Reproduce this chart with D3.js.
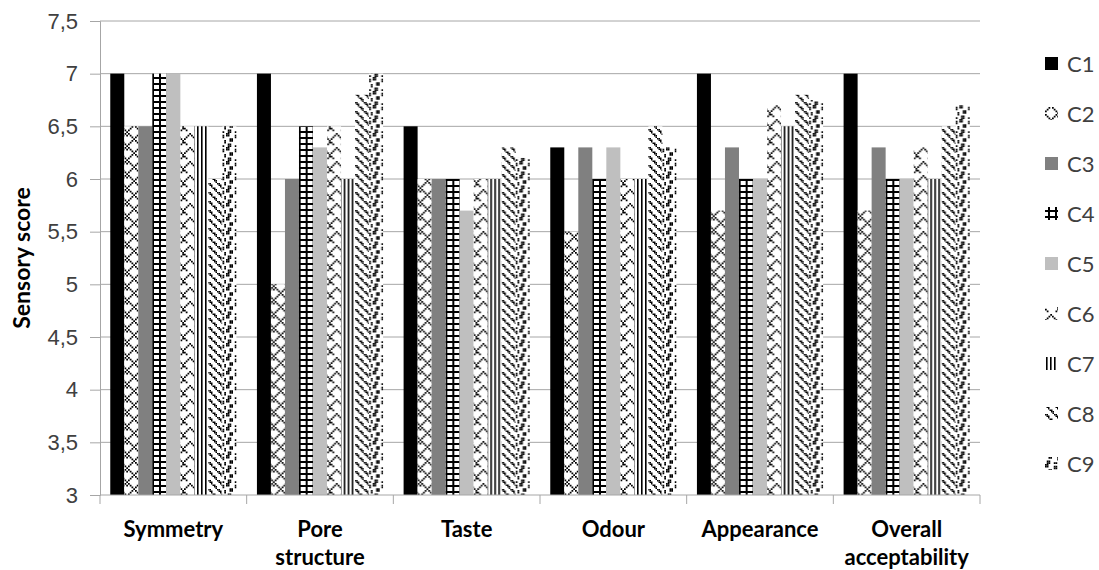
<!DOCTYPE html>
<html>
<head>
<meta charset="utf-8">
<script src="https://cdn.jsdelivr.net/npm/d3@7"></script>
<style>
  body { margin: 0; background: #fff; }
  svg { display: block; font-family: Lato, "Open Sans", sans-serif; }
  .axis-title { font-weight: bold; font-size: 23px; fill: #000; }
  .cat-label { font-weight: bold; font-size: 22px; fill: #000; }
  .tick-label { font-size: 22px; fill: #404040; }
  .legend-label { font-size: 22px; fill: #404040; }
</style>
</head>
<body>
<svg id="chart"></svg>
<script>
// categories, series and their values
const categories = ['Symmetry', 'Pore structure', 'Taste', 'Odour', 'Appearance', 'Overall acceptability'];
const seriesNames = ['C1', 'C2', 'C3', 'C4', 'C5', 'C6', 'C7', 'C8', 'C9'];
const C1 = [7.0, 7.0, 6.5, 6.3, 7.0, 7.0];
const C2 = [6.5, 5.0, 6.0, 5.5, 5.7, 5.7];
const C3 = [6.5, 6.0, 6.0, 6.3, 6.3, 6.3];
const C4 = [7.0, 6.5, 6.0, 6.0, 6.0, 6.0];
const C5 = [7.0, 6.3, 5.7, 6.3, 6.0, 6.0];
const C6 = [6.5, 6.5, 6.0, 6.0, 6.7, 6.3];
const C7 = [6.5, 6.0, 6.0, 6.0, 6.5, 6.0];
const C8 = [6.0, 6.8, 6.3, 6.5, 6.8, 6.5];
const C9 = [6.5, 7.0, 6.2, 6.3, 6.75, 6.7];
const yTicks = [3, 3.5, 4, 4.5, 5, 5.5, 6, 6.5, 7, 7.5];

const seriesValues = [C1, C2, C3, C4, C5, C6, C7, C8, C9];

class patternBarChart {
    constructor(_config) {
        this.config = {
            parentElement: _config.parentElement,
            containerWidth: _config.containerWidth || 1099,
            containerHeight: _config.containerHeight || 570,
            margin: _config.margin || { top: 21, right: 119, bottom: 75, left: 100 }
        };
        this.initChart();
    }

    initChart() {
        let vis = this;
        vis.width = vis.config.containerWidth - vis.config.margin.left - vis.config.margin.right;
        vis.height = vis.config.containerHeight - vis.config.margin.top - vis.config.margin.bottom;

        vis.svg = d3.select(vis.config.parentElement)
            .attr('width', vis.config.containerWidth)
            .attr('height', vis.config.containerHeight);

        vis.defs = vis.svg.append('defs');
        vis.makePatterns();

        vis.chart = vis.svg.append('g')
            .attr('transform', `translate(${vis.config.margin.left},${vis.config.margin.top})`);

        vis.xScale = d3.scaleBand().domain(categories).range([0, vis.width]).padding(0);
        vis.yScale = d3.scaleLinear().domain([3, 7.5]).range([vis.height, 0]);

        // gap between groups is about 1.5 bar widths
        let gap = vis.xScale.bandwidth() * 0.14;
        vis.xSub = d3.scaleBand().domain(seriesNames)
            .range([gap / 2, vis.xScale.bandwidth() - gap / 2]).padding(0);

        vis.renderChart();
    }

    // small black/white bitmaps scaled up like the picture
    bitmapPattern(id, rows, cell) {
        let h = rows.length, w = rows[0].length;
        let p = this.defs.append('pattern').attr('id', id)
            .attr('patternUnits', 'userSpaceOnUse')
            .attr('width', w * cell).attr('height', h * cell);
        p.append('rect').attr('width', w * cell).attr('height', h * cell).attr('fill', '#fff');
        rows.forEach((r, j) => {
            r.split('').forEach((c, i) => {
                if (c === '#') {
                    p.append('rect').attr('x', i * cell).attr('y', j * cell)
                        .attr('width', cell).attr('height', cell).attr('fill', '#000');
                }
            });
        });
    }

    makePatterns() {
        let vis = this;
        vis.bitmapPattern('p-C2', [
            '#.....#.',
            '.#...#.#',
            '..#.#...',
            '...#....',
            '..#.#...',
            '.#...#..',
            '#.....#.',
            '.......#'
        ], 1.75);
        vis.bitmapPattern('p-C6', [
            '...#....',
            '..#.#...',
            '.#...#..',
            '#.....#.',
            '.......#',
            '#......#',
            '.#....#.',
            '........'
        ], 1.75);
        vis.bitmapPattern('p-C8', [
            '##....',
            '.##...',
            '..#...',
            '...##.',
            '....##',
            '.....#'
        ], 1.5);
        vis.bitmapPattern('p-C9', [
            '##......',
            '##...##.',
            '.....##.',
            '..##....',
            '..##...#',
            '.......#',
            '.##.....',
            '.##..##.'
        ], 1.75);

        let grid = vis.defs.append('pattern').attr('id', 'p-C4')
            .attr('patternUnits', 'userSpaceOnUse').attr('width', 7).attr('height', 6);
        grid.append('rect').attr('width', 7).attr('height', 6).attr('fill', '#fff');
        grid.append('rect').attr('x', 3).attr('width', 2).attr('height', 6).attr('fill', '#000');
        grid.append('rect').attr('y', 2).attr('width', 7).attr('height', 2).attr('fill', '#000');

        let vert = vis.defs.append('pattern').attr('id', 'p-C7')
            .attr('patternUnits', 'userSpaceOnUse').attr('width', 4).attr('height', 4);
        vert.append('rect').attr('width', 4).attr('height', 4).attr('fill', '#fff');
        vert.append('rect').attr('x', 1).attr('width', 1.6).attr('height', 4).attr('fill', '#000');

        vis.fills = {
            C1: '#000000', C2: 'url(#p-C2)', C3: '#808080', C4: 'url(#p-C4)', C5: '#bfbfbf',
            C6: 'url(#p-C6)', C7: 'url(#p-C7)', C8: 'url(#p-C8)', C9: 'url(#p-C9)'
        };
    }

    renderChart() {
        let vis = this;

        // horizontal grid lines
        vis.chart.append('g').selectAll('line').data(yTicks.filter(d => d > 3)).join('line')
            .attr('x1', 0).attr('x2', vis.width)
            .attr('y1', d => vis.yScale(d)).attr('y2', d => vis.yScale(d))
            .attr('stroke', '#a6a6a6').attr('stroke-width', 1);

        // bars
        let groups = vis.chart.append('g').selectAll('g').data(categories).join('g')
            .attr('transform', d => `translate(${vis.xScale(d)},0)`);
        groups.selectAll('rect')
            .data((c, ci) => seriesNames.map((s, si) => ({ key: s, value: seriesValues[si][ci] })))
            .join('rect')
            .attr('x', d => vis.xSub(d.key))
            .attr('y', d => vis.yScale(d.value))
            .attr('width', vis.xSub.bandwidth())
            .attr('height', d => vis.height - vis.yScale(d.value))
            .attr('fill', d => vis.fills[d.key]);

        // y axis
        let yAxis = d3.axisLeft(vis.yScale).tickValues(yTicks).tickSize(10).tickPadding(12)
            .tickFormat(d => String(d).replace('.', ','));
        let yAxisG = vis.chart.append('g').call(yAxis);
        yAxisG.select('.domain').attr('stroke', '#a6a6a6');
        yAxisG.selectAll('.tick line').attr('stroke', '#a6a6a6');
        yAxisG.selectAll('.tick text').attr('class', 'tick-label').attr('font-size', null).attr('font-family', null);

        // x axis with ticks between categories
        let xAxisG = vis.chart.append('g').attr('transform', `translate(0,${vis.height})`);
        xAxisG.append('line').attr('x1', 0).attr('x2', vis.width).attr('stroke', '#a6a6a6');
        let bounds = categories.map(c => vis.xScale(c)).concat([vis.width]);
        xAxisG.selectAll('.xtick').data(bounds).join('line').attr('class', 'xtick')
            .attr('x1', d => d).attr('x2', d => d).attr('y1', 0).attr('y2', 9)
            .attr('stroke', '#a6a6a6');
        xAxisG.selectAll('.cat-label').data(categories).join('text').attr('class', 'cat-label')
            .attr('x', d => vis.xScale(d) + vis.xScale.bandwidth() / 2)
            .attr('y', 42)
            .attr('text-anchor', 'middle')
            .each(function (d) {
                let words = d.split(' ');
                d3.select(this).selectAll('tspan').data(words).join('tspan')
                    .attr('x', vis.xScale(d) + vis.xScale.bandwidth() / 2)
                    .attr('dy', (w, i) => i === 0 ? 0 : 28)
                    .text(w => w);
            });

        // y axis title
        vis.svg.append('text').attr('class', 'axis-title')
            .attr('transform', `translate(30,${vis.config.margin.top + vis.height / 2}) rotate(-90)`)
            .attr('text-anchor', 'middle')
            .text('Sensory score');

        // legend
        let legend = vis.svg.append('g').attr('transform', 'translate(1045,0)');
        let items = legend.selectAll('g').data(seriesNames).join('g')
            .attr('transform', (d, i) => `translate(0,${64 + i * 50})`);
        items.append('rect').attr('x', 0).attr('y', -7).attr('width', 13).attr('height', 13)
            .attr('fill', d => vis.fills[d]);
        items.append('text').attr('class', 'legend-label').attr('x', 22).attr('y', 8).text(d => d);
    }
}

new patternBarChart({ parentElement: '#chart' });
</script>
</body>
</html>
